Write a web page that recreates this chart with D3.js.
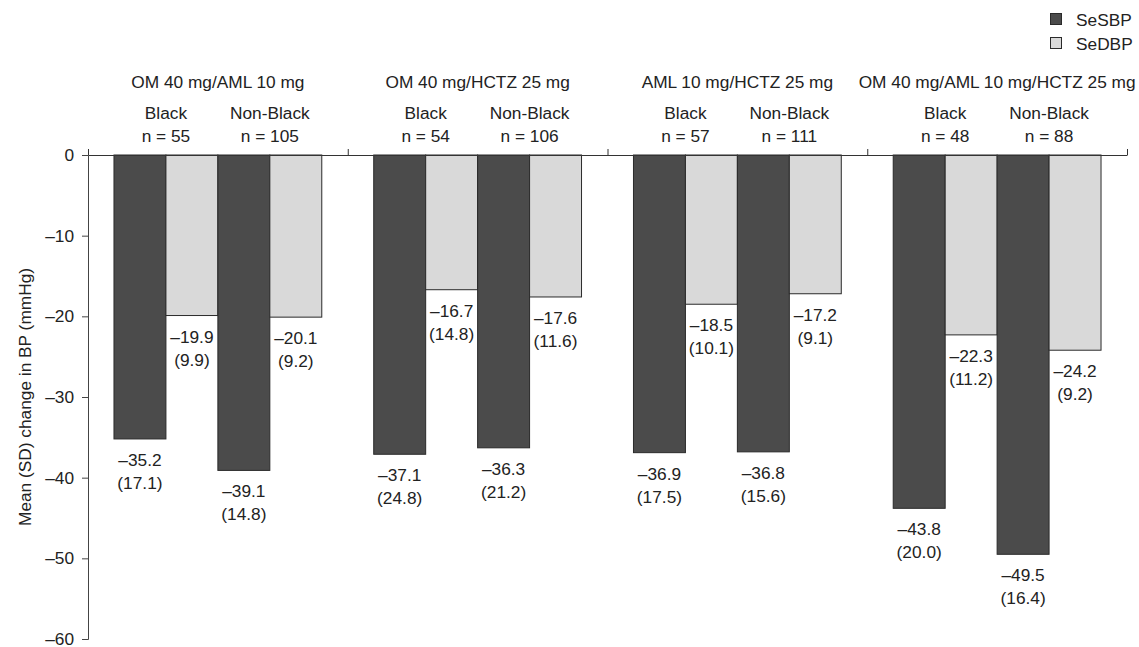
<!DOCTYPE html>
<html>
<head>
<meta charset="utf-8">
<script src="https://cdn.jsdelivr.net/npm/d3@7"></script>
<style>
  body { margin: 0; background: #fff; }
  svg text { font-family: "Liberation Sans", Arial, sans-serif; fill: #222; }
</style>
</head>
<body>
<svg id="chart"></svg>
<script>
// data
var groups = ["OM 40 mg/AML 10 mg", "OM 40 mg/HCTZ 25 mg", "AML 10 mg/HCTZ 25 mg", "OM 40 mg/AML 10 mg/HCTZ 25 mg"];
var races = ["Black", "Non-Black"];
var nCounts = [55, 105, 54, 106, 57, 111, 48, 88];
var sbpMean = [-35.2, -39.1, -37.1, -36.3, -36.9, -36.8, -43.8, -49.5];
var sbpSD = [17.1, 14.8, 24.8, 21.2, 17.5, 15.6, 20.0, 16.4];
var dbpMean = [-19.9, -20.1, -16.7, -17.6, -18.5, -17.2, -22.3, -24.2];
var dbpSD = [9.9, 9.2, 14.8, 11.6, 10.1, 9.1, 11.2, 9.2];
var series = ["SeSBP", "SeDBP"];
var yTicks = [0, -10, -20, -30, -40, -50, -60];

var colors = { SeSBP: "#4b4b4b", SeDBP: "#d9d9d9" };
var W = 1139, H = 647;
var left = 88, right = 1127, top0 = 155, bottom = 639;
var fs = 17.3;

var svg = d3.select('#chart').attr('width', W).attr('height', H);

var y = d3.scaleLinear().domain([0, -60]).range([top0, bottom]);
var x0 = d3.scaleBand().domain(groups).range([left, right]);
var keys = [];
races.forEach(r => series.forEach(s => keys.push(r + "|" + s)));
var x1 = d3.scaleBand().domain(keys).range([0, x0.bandwidth()]).paddingInner(0).paddingOuter(0.5);
var raceX = d3.scaleBand().domain(races).range([0, x0.bandwidth()]).paddingOuter(0.25);

function fmt(v) { return v < 0 ? "\u2013" + Math.abs(v).toFixed(1) : v.toFixed(1); }

// rows
var rows = [];
groups.forEach((g, gi) => {
    races.forEach((r, ri) => {
        var i = gi * 2 + ri;
        rows.push({ group: g, race: r, series: "SeSBP", mean: sbpMean[i], sd: sbpSD[i] });
        rows.push({ group: g, race: r, series: "SeDBP", mean: dbpMean[i], sd: dbpSD[i] });
    });
});

// bars
svg.append('g').selectAll('rect')
    .data(rows)
    .enter()
    .append('rect')
    .attr('x', d => x0(d.group) + x1(d.race + "|" + d.series))
    .attr('y', y(0))
    .attr('width', x1.bandwidth())
    .attr('height', d => y(d.mean) - y(0))
    .attr('fill', d => colors[d.series])
    .attr('stroke', '#2a2a2a')
    .attr('stroke-width', 1);

// value labels
var cx = d => x0(d.group) + x1(d.race + "|" + d.series) + x1.bandwidth() / 2;
var lab = svg.append('g').selectAll('text')
    .data(rows)
    .enter()
    .append('text')
    .attr('text-anchor', 'middle')
    .attr('font-size', fs)
    .attr('x', cx)
    .attr('y', d => y(d.mean) + 27);
lab.append('tspan').text(d => fmt(d.mean));
lab.append('tspan')
    .attr('x', cx)
    .attr('dy', 23)
    .text(d => "(" + d.sd.toFixed(1) + ")");

// y axis
var yAxis = d3.axisLeft(y).tickValues(yTicks).tickSize(6).tickPadding(8)
    .tickFormat(d => d < 0 ? "\u2013" + Math.abs(d) : d);
var ya = svg.append('g').attr('transform', `translate(${left},0)`).call(yAxis);
ya.selectAll('text').attr('font-size', fs).style('font-family', '"Liberation Sans", Arial, sans-serif').attr('fill', '#222');
ya.selectAll('line, path').attr('stroke', '#444');

// top zero axis with group separators
var xs = d3.scaleLinear().domain([0, groups.length]).range([left, right]);
var ta = svg.append('g').attr('transform', `translate(0,${y(0)})`)
    .call(d3.axisTop(xs).tickValues(d3.range(groups.length + 1)).tickSize(6).tickSizeOuter(0).tickFormat(''));
ta.selectAll('line, path').attr('stroke', '#333');

// group headers
svg.append('g').selectAll('text')
    .data(groups)
    .enter()
    .append('text')
    .attr('text-anchor', 'middle')
    .attr('font-size', fs)
    .attr('x', d => x0(d) + x0.bandwidth() / 2)
    .attr('y', 88)
    .text(d => d);

var sub = [];
groups.forEach((g, gi) => races.forEach((r, ri) => sub.push({ group: g, race: r, n: nCounts[gi * 2 + ri] })));
var st = svg.append('g').selectAll('text')
    .data(sub)
    .enter()
    .append('text')
    .attr('text-anchor', 'middle')
    .attr('font-size', fs)
    .attr('y', 119);
st.append('tspan')
    .attr('x', d => x0(d.group) + raceX(d.race) + raceX.bandwidth() / 2)
    .text(d => d.race);
st.append('tspan')
    .attr('x', d => x0(d.group) + raceX(d.race) + raceX.bandwidth() / 2)
    .attr('dy', 23)
    .text(d => "n = " + d.n);

// y title
svg.append('text')
    .attr('transform', `translate(31,${(top0 + bottom) / 2}) rotate(-90)`)
    .attr('text-anchor', 'middle')
    .attr('font-size', fs)
    .text('Mean (SD) change in BP (mmHg)');

// legend
var lg = svg.append('g').selectAll('g')
    .data(series)
    .enter()
    .append('g')
    .attr('transform', (d, i) => `translate(1050.5,${13.5 + i * 24})`);
lg.append('rect')
    .attr('width', 11).attr('height', 11)
    .attr('fill', d => colors[d])
    .attr('stroke', '#2a2a2a');
lg.append('text')
    .attr('x', 25.5).attr('y', 12)
    .attr('font-size', fs)
    .text(d => d);
</script>
</body>
</html>
